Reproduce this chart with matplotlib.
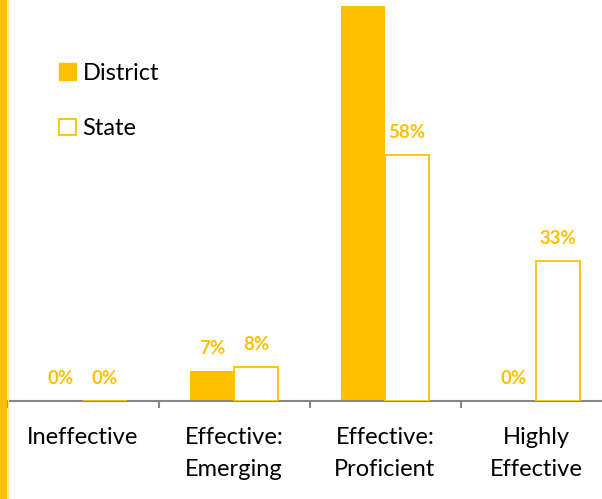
import numpy as np
import matplotlib.pyplot as plt
from matplotlib.patches import Patch, Rectangle
from matplotlib.lines import Line2D

categories = ["Ineffective", "Effective:\nEmerging", "Effective:\nProficient", "Highly\nEffective"]
district = [0, 7, 93, 0]
state = [0, 8, 58, 33]

GOLD = "#FFC000"
GREY = "#868686"
plt.rcParams["font.family"] = ["Lato", "DejaVu Sans"]

W, H = 602, 499
fig = plt.figure(figsize=(W / 100, H / 100), dpi=100)
ax = fig.add_axes([7.5 / W, (H - 400.5) / H, 1 - 7.5 / W, 400.5 / H])

x = np.arange(len(categories))
bw = 0.29
b1 = ax.bar(x - bw / 2, district, bw, color=GOLD, edgecolor="none", zorder=2)
b2 = ax.bar(x + bw / 2, state, bw, color="white", edgecolor=GOLD, linewidth=1.3, zorder=3)

ymax = 400.5 / 4.24
for bars, vals in [(b1, district), (b2, state)]:
    for b, v in zip(bars, vals):
        if v > ymax - 8:
            continue  # label falls above the visible area
        ax.annotate(f"{v}%", (b.get_x() + b.get_width() / 2, v), xytext=(0, 16),
                    textcoords="offset points", ha="center", va="center",
                    color=GOLD, fontsize=13.5, fontweight="bold", annotation_clip=False)

for s in ["top", "right", "left"]:
    ax.spines[s].set_visible(False)
ax.spines["bottom"].set_color(GREY)
ax.spines["bottom"].set_linewidth(1.5)
ax.set_yticks([])
ax.set_xticks(x)
ax.set_xticklabels([])
ax.tick_params(axis="x", which="major", length=0)
# category names drawn by hand so the line spacing sticks
for xi, lab in zip(x, categories):
    ax.annotate(lab, (xi, 0), xytext=(0, -19), textcoords="offset points",
                ha="center", va="top", fontsize=17, linespacing=1.65, annotation_clip=False)
ax.set_xticks(np.arange(-0.5, 4, 1), minor=True)
ax.tick_params(axis="x", which="minor", length=5, width=1.5, color=GREY, direction="out")
ax.set_xlim(-0.5, -0.5 + (W - 7.5) / 151)
ax.set_ylim(0, ymax)

handles = [Patch(facecolor=GOLD, edgecolor=GOLD), Patch(facecolor="white", edgecolor=GOLD, linewidth=1.3)]
fig.legend(handles, ["District", "State"], loc="upper left", bbox_to_anchor=(59 / W, 1 - 63 / H),
           frameon=False, fontsize=17, handlelength=0.7, handleheight=0.7, handletextpad=0.3,
           labelspacing=1.45, borderpad=0, borderaxespad=0)

# left border strip
fig.patches.append(Rectangle((0, 0), 6 / W, 1, transform=fig.transFigure, color=GOLD, zorder=5))
fig.lines.append(Line2D([7.5 / W, 7.5 / W], [0, 1], transform=fig.transFigure, color="#FFE699", lw=0.8))

fig.savefig("out.png", dpi=100)
